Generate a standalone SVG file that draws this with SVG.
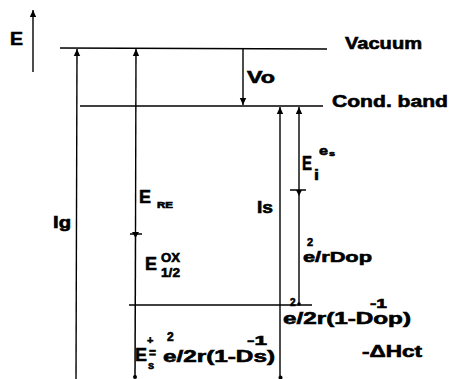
<svg xmlns="http://www.w3.org/2000/svg" width="449" height="379" viewBox="0 0 449 379">
<style>
text{font-family:"Liberation Sans",Arial,sans-serif;font-weight:bold;fill:#000;stroke:#000;stroke-width:0.6}
.ln{stroke:#000;stroke-width:1.5;fill:none}
.ar{stroke:#000;stroke-width:1.4;fill:none;marker-end:url(#ah)}
</style>
<defs>
<marker id="ah" markerUnits="userSpaceOnUse" markerWidth="8" markerHeight="8" refX="7" refY="4" orient="auto">
<path d="M0,0.8 L7,4 L0,7.2 z" fill="#000"/>
</marker>
</defs>
<rect width="449" height="379" fill="#fff"/>

<g id="node-vacuum">
<line class="ln" x1="60" y1="48" x2="327" y2="49"/>
<text x="345" y="49" font-size="17" textLength="77" lengthAdjust="spacingAndGlyphs">Vacuum</text>
</g>
<g id="node-condband">
<line class="ln" x1="80" y1="106" x2="323" y2="106"/>
<text x="332" y="107" font-size="17" textLength="116" lengthAdjust="spacingAndGlyphs">Cond. band</text>
</g>
<g id="node-level">
<line class="ln" x1="129" y1="305" x2="312" y2="305"/>
</g>

<g id="connectors">
<line class="ar" x1="33" y1="72" x2="33" y2="10"/>
<line class="ar" x1="76" y1="379" x2="77" y2="49"/>
<line class="ar" x1="135.5" y1="234" x2="136" y2="49"/>
<line class="ln" x1="135.5" y1="234" x2="135" y2="377"/>
<circle cx="135" cy="377" r="2" fill="#000"/>
<line class="ar" x1="243" y1="49" x2="243" y2="105"/>
<line class="ar" x1="280" y1="378" x2="280" y2="107"/>
<circle cx="280.5" cy="377.5" r="2" fill="#000"/>
<line class="ar" x1="299" y1="305" x2="299" y2="107"/>
<circle cx="299" cy="304" r="1.8" fill="#000"/>
<line class="ln" x1="130" y1="234" x2="142" y2="234" stroke-width="2.2"/>
<path d="M132,232 L139,232 L135.5,238 z" fill="#000"/>
<line class="ln" x1="290" y1="190" x2="306" y2="190"/>
<path d="M296,190 L302,190 L299,196 z" fill="#000"/>
</g>

<g id="label-E">
<text x="10" y="45" font-size="18" textLength="13" lengthAdjust="spacingAndGlyphs">E</text>
</g>
<g id="label-Vo">
<text x="247" y="83" font-size="16" textLength="28" lengthAdjust="spacingAndGlyphs">Vo</text>
</g>
<g id="label-Ig">
<text x="53" y="228" font-size="16" textLength="18" lengthAdjust="spacingAndGlyphs">Ig</text>
</g>
<g id="label-Is">
<text x="257" y="213" font-size="16" textLength="16" lengthAdjust="spacingAndGlyphs">Is</text>
</g>
<g id="label-ERE">
<text x="139" y="203" font-size="19" textLength="12" lengthAdjust="spacingAndGlyphs">E</text>
<text x="157" y="208" font-size="8.5" textLength="16" lengthAdjust="spacingAndGlyphs">RE</text>
</g>
<g id="label-Ehalf">
<text x="145" y="270" font-size="19" textLength="12" lengthAdjust="spacingAndGlyphs">E</text>
<text x="161" y="262" font-size="12" textLength="19" lengthAdjust="spacingAndGlyphs">OX</text>
<text x="161" y="277" font-size="13" textLength="19" lengthAdjust="spacingAndGlyphs">1/2</text>
</g>
<g id="label-Ei">
<text x="302" y="170" font-size="20" textLength="10" lengthAdjust="spacingAndGlyphs">E</text>
<text x="314" y="180" font-size="15" textLength="5" lengthAdjust="spacingAndGlyphs">i</text>
<text x="319" y="155" font-size="13" textLength="9" lengthAdjust="spacingAndGlyphs">e</text>
<text x="329" y="156" font-size="8" textLength="6" lengthAdjust="spacingAndGlyphs">s</text>
</g>
<g id="label-rDop">
<text x="303" y="262" font-size="15" textLength="69" lengthAdjust="spacingAndGlyphs">e/rDop</text>
<text x="307" y="246" font-size="11">2</text>
</g>
<g id="label-2rDop">
<text x="283" y="324" font-size="16" textLength="128" lengthAdjust="spacingAndGlyphs">e/2r(1-Dop)</text>
<text x="290" y="306" font-size="10">2</text>
<text x="370" y="308" font-size="13" textLength="17" lengthAdjust="spacingAndGlyphs">-1</text>
</g>
<g id="label-Hct">
<text x="362" y="357" font-size="16" textLength="60" lengthAdjust="spacingAndGlyphs">-ΔHct</text>
</g>
<g id="label-Es">
<text x="135" y="361" font-size="19" textLength="12" lengthAdjust="spacingAndGlyphs">E</text>
<text x="147" y="344" font-size="11">+</text>
<text x="149" y="357" font-size="12">=</text>
<text x="148" y="369" font-size="11">s</text>
<text x="163" y="362" font-size="16" textLength="112" lengthAdjust="spacingAndGlyphs">e/2r(1-Ds)</text>
<text x="167" y="341" font-size="12">2</text>
<text x="247" y="345" font-size="13" textLength="20" lengthAdjust="spacingAndGlyphs">-1</text>
</g>
</svg>
